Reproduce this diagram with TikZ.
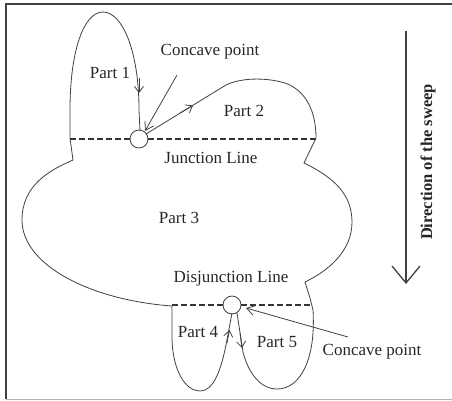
\documentclass[tikz,border=0pt]{standalone}
\usepackage{fontspec}
\setmainfont{Liberation Serif}
\usetikzlibrary{arrows.meta}
\begin{document}
\begin{tikzpicture}[x=1pt,y=-1pt,
  outline/.style={draw=black!75, line width=0.8pt},
  cutline/.style={draw=black!80, line width=1.6pt, dash pattern=on 6pt off 3pt},
  lbl/.style={font=\fontsize{17}{20}\selectfont, text=black!85, inner sep=0pt},
  tipmark/.style={draw=black!75, line width=0.8pt, -{Straight Barb[length=6pt,width=9pt]}},
  pointer/.style={draw=black!75, line width=0.8pt, -{Straight Barb[length=8pt,width=10pt]}},
  ring/.style={draw=black!75, line width=0.8pt}]
\useasboundingbox (0,0) rectangle (452,400);
% frame
\draw[black!75, line width=1.6pt] (6,399) -- (6,4) -- (452,4);
\draw[black!30, line width=1pt] (6,399) -- (452,399);

% outline of the shape
\draw[outline] (140,131) -- (139,110)
  .. controls (139,50) and (122,12) .. (103,12)
  .. controls (84,12) and (70,50) .. (70,110)
  -- (70,138) -- (73,160)
  .. controls (50,170) and (22,185) .. (22,220)
  .. controls (22,265) and (90,300) .. (172,306)
  -- (172,340)
  .. controls (173,370) and (185,391) .. (200,391)
  .. controls (212,391) and (220,375) .. (226,345)
  -- (232,313);
\draw[outline] (237,313) -- (243,352)
  .. controls (248,372) and (260,389) .. (277,389)
  .. controls (300,389) and (316,360) .. (313,310)
  -- (310,298) -- (305,282)
  .. controls (330,270) and (352,250) .. (352,222)
  .. controls (352,195) and (335,178) .. (304,163)
  -- (316,138)
  .. controls (316,110) and (305,90) .. (285,83)
  .. controls (265,77) and (240,78) .. (226,85)
  -- (146,134);

% concave point rings
\node[ring, circle, minimum size=18pt, inner sep=0pt] (c1) at (139,139) {};
\node[ring, circle, minimum size=18pt, inner sep=0pt] (c2) at (232,305) {};

% junction and disjunction lines
\draw[cutline] (70,139) -- (c1.west);
\draw[cutline] (c1.east) -- (316,139);
\draw[cutline] (172,305) -- (c2.west);
\draw[cutline] (c2.east) -- (312,305);

% direction marks on the boundary
\draw[tipmark] (139,78) -- (139,93);
\draw[tipmark] (180,113) -- (193,105.5);
\draw[tipmark] (227,343) -- (229.5,330);
\draw[tipmark] (240,333) -- (242,348);

% labels
\node[lbl] (cp1) at (210,52) {Concave point};
\node[lbl] (p1) at (110,73) {Part 1};
\node[lbl] (p2) at (244,111) {Part 2};
\node[lbl] (jl) at (211,158) {Junction Line};
\node[lbl] (p3) at (179,218) {Part 3};
\node[lbl] (dl) at (231,279) {Disjunction Line};
\node[lbl] (p4) at (198,332) {Part 4};
\node[lbl] (p5) at (277,342) {Part 5};
\node[lbl] (cp2) at (372,352) {Concave point};
\node[lbl, font=\fontsize{16.5}{20}\selectfont\bfseries, rotate=90] (dir) at (428,162) {Direction of the sweep};

% pointers from the labels
\coordinate (a1) at (177,75);
\coordinate (a1e) at (145,131);
\coordinate (a2) at (348,337);
\coordinate (a2e) at (246,308);
\draw[pointer] (a1) -- (a1e);
\draw[pointer] (a2) -- (a2e);

% sweep arrow
\coordinate (s1) at (406,31);
\coordinate (s2) at (406,284);
\draw[draw=black!75, line width=2pt, -{Straight Barb[length=17pt,width=28pt,line width=1.3pt]}] (s1) -- (s2);
\end{tikzpicture}
\end{document}
